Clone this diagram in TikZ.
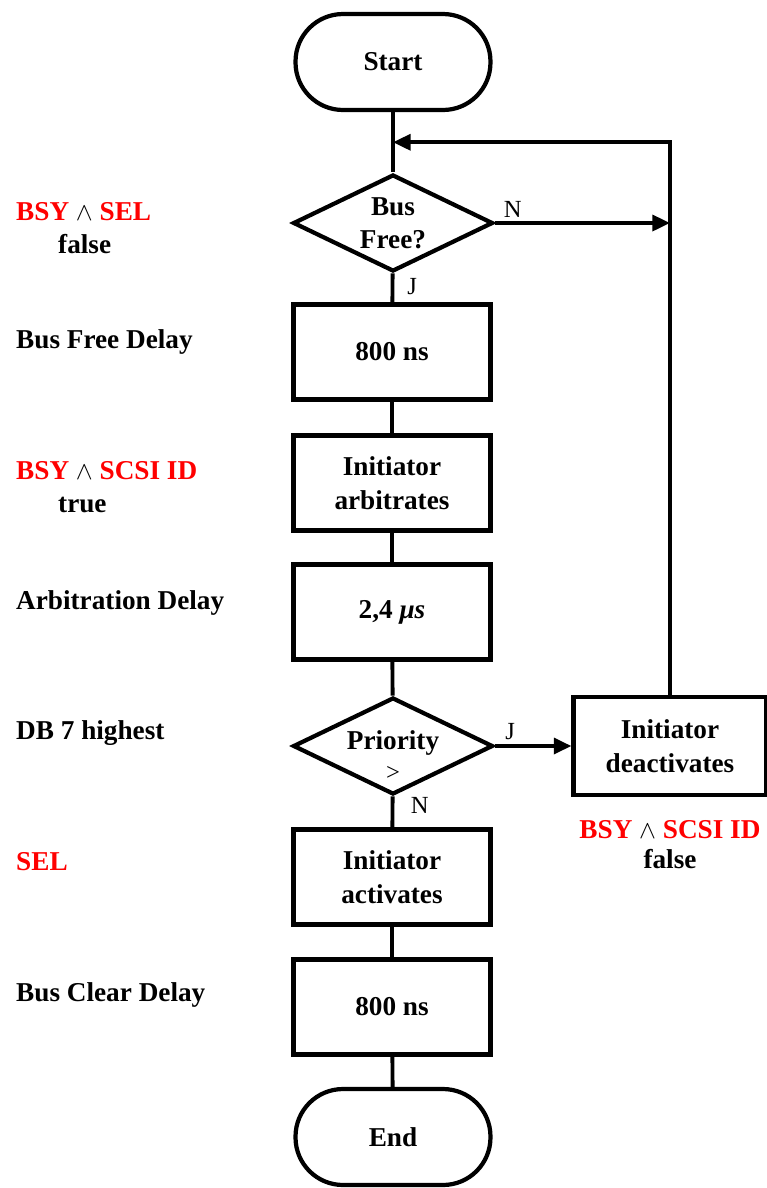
\documentclass[tikz,border=0pt]{standalone}
\usepackage{fontspec}
\setmainfont{Liberation Serif}
\usepackage{amsmath}
\usetikzlibrary{arrows.meta, positioning, shapes.geometric, calc}
\definecolor{BR}{RGB}{255,0,0}
\definecolor{DK}{RGB}{0,0,0}
\newcommand{\sig}[1]{\textcolor{BR}{#1}}

\begin{document}
\begin{tikzpicture}[
  x=0.02cm, y=-0.02cm,
  term/.style={draw=DK, line width=2.4pt, rounded corners=0.95cm,
               minimum width=3.9cm, minimum height=1.92cm,
               align=center, font=\fontsize{15.5}{19}\selectfont\bfseries},
  proc/.style={draw=DK, line width=2.4pt,
               minimum width=3.94cm, minimum height=1.9cm,
               align=center, font=\fontsize{15.5}{19}\selectfont\bfseries},
  dec/.style={draw=DK, line width=2.4pt, diamond, inner sep=0pt,
              minimum width=4.0cm, minimum height=1.94cm},
  dtxt/.style={align=center, font=\fontsize{15.5}{19}\selectfont\bfseries},
  side/.style={anchor=west, align=left, font=\fontsize{15.5}{19}\selectfont\bfseries},
  yn/.style={font=\fontsize{14}{15}\selectfont},
  arr/.style={-{Triangle[length=10pt, width=9pt]}, line width=2.2pt, draw=DK},
  ln/.style={line width=2.2pt, draw=DK}
]
\useasboundingbox (0,0) rectangle (767,1188);

% Main flow
\node[term] (start) at (393,62) {Start};
\node[dec, label={[dtxt]center:Bus\\Free?}] (busfree) at (393,223) {};
\node[proc] (freedly) at (392,352) {800 ns};
\node[proc] (arbit) at (392,483) {Initiator\\arbitrates};
\node[proc] (arbdly) at (392,612) {2,4 \textit{μs}};
\node[dec, label={[dtxt, yshift=-5.5pt]center:Priority\\[-1pt]%
  {\mdseries\fontsize{14}{14}\selectfont >}}] (prio) at (393,746) {};
\node[proc] (activ) at (392,877) {Initiator\\activates};
\node[proc] (clrdly) at (392,1007) {800 ns};
\node[term] (end) at (393,1137) {End};

% Lost arbitration
\node[proc, minimum width=3.86cm, minimum height=1.96cm] (deact) at (670,746)
  {Initiator\\deactivates};
\node[align=center, below=0.35cm of deact, font=\fontsize{15.5}{17}\selectfont\bfseries] (deactsig)
  {\sig{BSY} $\land$ \sig{SCSI ID}\\false};

% Bus signals on the left
\node[side] (sfree) at (10,228) {\sig{BSY} $\land$ \sig{SEL}\\\hspace*{0.84cm}false};
\node[side] (sfdly) at (10,342) {Bus Free Delay};
\node[side] (sarb) at (10,487) {\sig{BSY} $\land$ \sig{SCSI ID}\\\hspace*{0.84cm}true};
\node[side] (sadly) at (10,603) {Arbitration Delay};
\node[side] (sprio) at (10,733) {DB 7 highest};
\node[side] (ssel) at (10,862) {\sig{SEL}};
\node[side] (scdly) at (10,995) {Bus Clear Delay};

% Connectors
\coordinate (join) at ($(start.south)!0.5!(busfree.north)$);
\draw[ln] (start)--(busfree);
\draw[ln] (busfree)--(freedly) node[pos=0.45, right=4pt, yn]{J};
\draw[ln] (freedly)--(arbit);
\draw[ln] (arbit)--(arbdly);
\draw[ln] (arbdly)--(prio);
\draw[ln] (prio)--(activ) node[pos=0.3, right=6pt, yn]{N};
\draw[ln] (activ)--(clrdly);
\draw[ln] (clrdly)--(end);
\draw[arr] (prio.east)--(deact.west) node[pos=0.05, above right=-1pt, yn]{J};
\draw[arr] (deact.north)|-(join);
\draw[arr] (busfree.east)--(busfree.east -| deact.north)
  node[pos=0.02, above right=-2pt, yn]{N};
\end{tikzpicture}
\end{document}
